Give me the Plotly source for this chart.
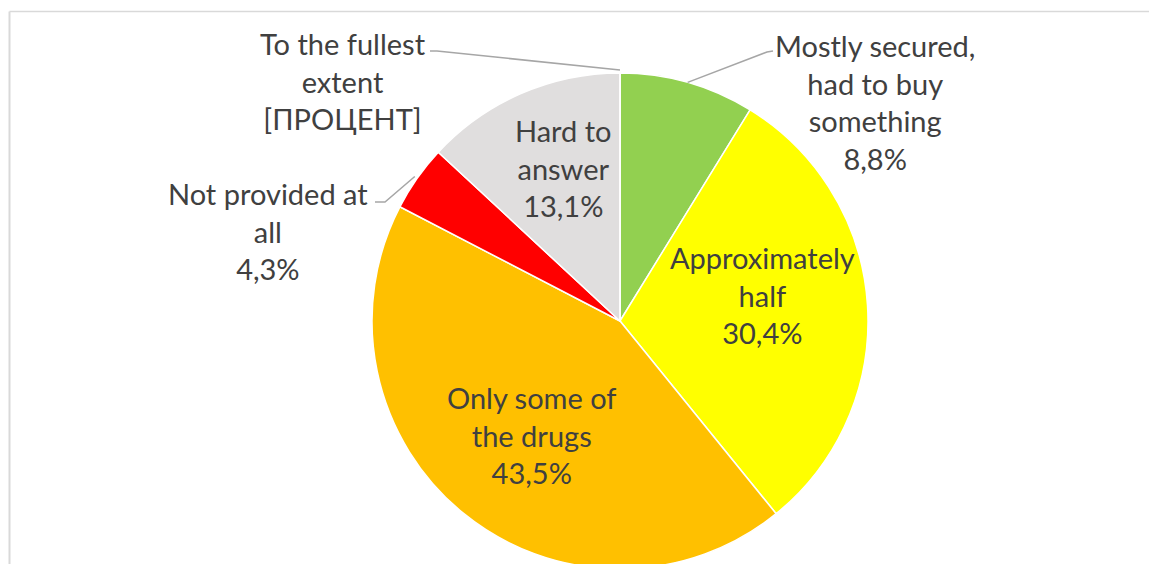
import math
import plotly.graph_objects as go

# ---- data ----
categories = ["Mostly secured, had to buy something", "Approximately half",
              "Only some of the drugs", "Not provided at all", "Hard to answer",
              "To the fullest extent"]
values = [8.8, 30.4, 43.5, 4.3, 13.1, 0.0]
value_labels = ["8,8%", "30,4%", "43,5%", "4,3%", "13,1%", "[ПРОЦЕНТ]"]
label_lines = [["Mostly secured,", "had to buy", "something"],
               ["Approximately", "half"],
               ["Only some of", "the drugs"],
               ["Not provided at", "all"],
               ["Hard to", "answer"],
               ["To the fullest", "extent"]]
colors = ["#92D050", "#FFFF00", "#FFC000", "#FF0000", "#E0DEDE", "#BFBFBF"]

# ---- geometry (pixels) ----
W, H = 1149, 600
CX, CY, R = 620, 321, 248

def px(x):
    return x / W

def py(y):
    return 1 - y / H

fig = go.Figure(go.Pie(
    labels=categories, values=values, sort=False, direction="clockwise",
    rotation=0, textinfo="none", hoverinfo="label+percent",
    marker=dict(colors=colors, line=dict(color="#FFFFFF", width=1.5)),
    domain=dict(x=[px(CX - R), px(CX + R)], y=[py(CY + R), py(CY - R)]),
    showlegend=False,
))

# label block centres (pixels)
label_pos = [(875, 102), (763, 295), (532, 435), (268, 231), (563, 168), (343, 81)]
font = dict(family="Lato, Carlito, Calibri, sans-serif", size=29, color="#404040")
annotations = []
for lines, val, (lx, ly) in zip(label_lines, value_labels, label_pos):
    annotations.append(dict(
        text="<br>".join(lines + [val]), x=px(lx), y=py(ly), xref="paper", yref="paper",
        xanchor="center", yanchor="middle", showarrow=False, align="center", font=font))

# leader lines: end on the slice mid-angle at the pie edge
total = sum(values)
cum = 0
mid_angles = []
for v in values:
    mid_angles.append((cum + v / 2) / total * 2 * math.pi)
    cum += v

def edge(i, extra=0):
    a = mid_angles[i]
    return CX + (R + extra) * math.sin(a), CY - (R + extra) * math.cos(a)

def path(points):
    return "M " + " L ".join(f"{px(x):.5f},{py(y):.5f}" for x, y in points)

leaders = [
    [(430, 51), (437, 51), edge(5, 3)],
    [edge(0, 0), (767, 52), (773, 51)],
    [(375, 202), (385, 202), edge(3, 3)],
]
shapes = []
for pts in leaders:
    shapes.append(dict(type="path", path=path(pts), xref="paper", yref="paper",
                       line=dict(color="#A6A6A6", width=1.5)))

# chart-area frame
shapes.append(dict(type="line", xref="paper", yref="paper", x0=px(9.5), x1=1.02,
                   y0=py(11.5), y1=py(11.5), line=dict(color="#D9D9D9", width=1.5)))
shapes.append(dict(type="line", xref="paper", yref="paper", x0=px(9.5), x1=px(9.5),
                   y0=py(11.5), y1=-0.02, line=dict(color="#D9D9D9", width=2)))

fig.update_layout(
    width=W, height=H, margin=dict(l=0, r=0, t=0, b=0),
    paper_bgcolor="white", plot_bgcolor="white",
    annotations=annotations, shapes=shapes,
)

fig.write_html(
    "out.html",
    config={"displayModeBar": False},
    post_script="document.body.style.margin='0';"
                "document.documentElement.style.overflow='hidden';"
                "document.body.style.overflow='hidden';",
)
